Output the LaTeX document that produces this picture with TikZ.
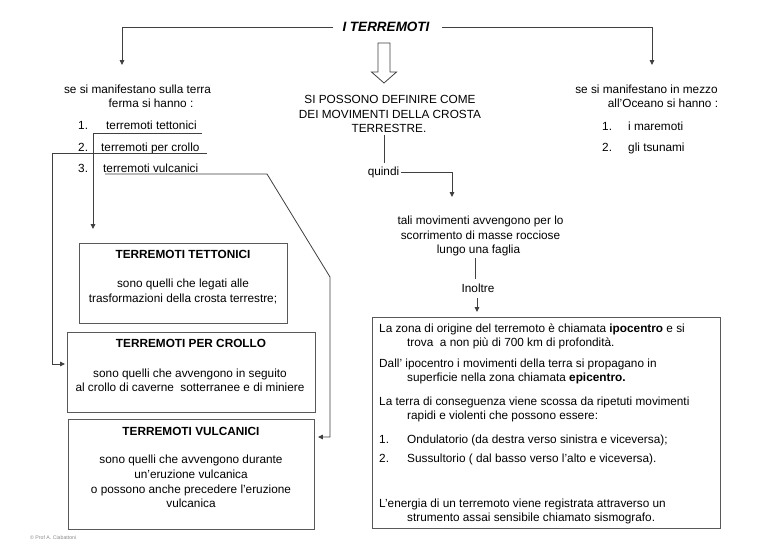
\documentclass[tikz,border=0pt]{standalone}
\usepackage{fontspec}
\setmainfont{Liberation Sans}
\usetikzlibrary{arrows.meta}
\begin{document}
\begin{tikzpicture}[x=1pt,y=-1pt,
  txt/.style={font=\fontsize{11.8}{14}\selectfont, inner sep=0pt, text=black},
  ttl/.style={font=\fontsize{11.8}{14}\selectfont\bfseries, inner sep=0pt, text=black},
  ln/.style={draw=black!75, line width=0.8pt},
  arr/.style={ln, -{Triangle[length=4.8pt,width=4.5pt]}},
  boxst/.style={draw=black!65, line width=0.9pt, inner sep=0pt, anchor=north west}
]
\useasboundingbox[fill=white] (0,0) rectangle (768,543);

% title
\node[font=\fontsize{13.5}{16}\selectfont\bfseries\itshape, inner sep=0pt] (title) at (386,27) {I TERREMOTI};
\coordinate (Ltgt) at (122,65);
\coordinate (Rtgt) at (652,65);
\draw[arr] ([xshift=-9pt]title.west) -| (Ltgt);
\draw[arr] ([xshift=12pt]title.east) -| (Rtgt);

% hollow arrow
\draw[ln, fill=white] (378,43) -- (390,43) -- (390,72) -- (396.5,72) -- (384,83) -- (371.5,72) -- (378,72) -- cycle;

% centre text
\node[txt] (si1) at (390,99.5) {SI POSSONO DEFINIRE COME};
\node[txt] (si2) at (390,114.5) {DEI MOVIMENTI DELLA CROSTA};
\node[txt] (si3) at (389,128.5) {TERRESTRE.};
\coordinate (q1) at (384,135);
\coordinate (q2) at (384,163);
\draw[ln] (q1) -- (q2);
\node[txt] (quindi) at (383.5,172) {quindi};
\coordinate (Ttgt) at (452,197);
\draw[arr] ([xshift=2pt]quindi.east) -| (Ttgt);

\node[txt, anchor=base] (tali1) at (480.5,224) {tali movimenti avvengono per lo};
\node[txt, anchor=base] (tali2) at (480.5,239) {scorrimento di masse rocciose};
\node[txt, anchor=base] (tali3) at (478.5,253) {lungo una faglia};
\coordinate (i1) at (475,258);
\coordinate (i2) at (475,279);
\draw[ln] (i1) -- (i2);
\node[txt, anchor=base] (inoltre) at (478,292) {Inoltre};
\coordinate (i3) at (477,298);
\coordinate (i4) at (477,312);
\draw[arr] (i3) -- (i4);

% big box
\node[boxst, minimum width=348pt, minimum height=211pt] (bB) at (372,317) {};
\node[txt, anchor=base west] (b1) at (379,332) {La zona di origine del terremoto è chiamata \textbf{ipocentro} e si};
\node[txt, anchor=base west] (b2) at (407,346) {trova\ \ a non più di 700 km di profondità.};
\node[txt, anchor=base west] (b3) at (379,367) {Dall’ ipocentro i movimenti della terra si propagano in};
\node[txt, anchor=base west] (b4) at (407,381) {superficie nella zona chiamata \textbf{epicentro.}};
\node[txt, anchor=base west] (b5) at (379,405) {La terra di conseguenza viene scossa da ripetuti movimenti};
\node[txt, anchor=base west] (b6) at (407,419) {rapidi e violenti che possono essere:};
\node[txt, anchor=base west] (b7n) at (379,443) {1.};
\node[txt, anchor=base west] (b7) at (407,443) {Ondulatorio (da destra verso sinistra e viceversa);};
\node[txt, anchor=base west] (b8n) at (379,462) {2.};
\node[txt, anchor=base west] (b8) at (407,462) {Sussultorio ( dal basso verso l’alto e viceversa).};
\node[txt, anchor=base west] (b9) at (379,507) {L’energia di un terremoto viene registrata attraverso un};
\node[txt, anchor=base west] (b10) at (407,521) {strumento assai sensibile chiamato sismografo.};

% right column
\node[txt, anchor=base] (r1) at (646.5,93) {se si manifestano in mezzo};
\node[txt, anchor=base] (r2) at (663,107) {all’Oceano si hanno :};
\node[txt, anchor=base west] (r3n) at (602,130) {1.};
\node[txt, anchor=base west] (r3) at (628,130) {i maremoti};
\node[txt, anchor=base west] (r4n) at (602,151) {2.};
\node[txt, anchor=base west] (r4) at (628,151) {gli tsunami};

% left column
\node[txt, anchor=base] (l1) at (137.5,93) {se si manifestano sulla terra};
\node[txt, anchor=base] (l2) at (151,107) {ferma si hanno :};
\node[txt, anchor=base west] (l3n) at (78,129) {1.};
\node[txt, anchor=base west] (l3) at (106,129) {terremoti tettonici};
\node[txt, anchor=base west] (l4n) at (78,151) {2.};
\node[txt, anchor=base west] (l4) at (101,151) {terremoti per crollo};
\node[txt, anchor=base west] (l5n) at (78,172) {3.};
\node[txt, anchor=base west] (l5) at (103,172) {terremoti vulcanici};

% boxes
\node[boxst, minimum width=208pt, minimum height=80pt] (bT) at (79,243) {};
\node[ttl, anchor=base] (bT1) at (183,258) {TERREMOTI TETTONICI};
\node[txt, anchor=base] (bT2) at (183,287) {sono quelli che legati alle};
\node[txt, anchor=base] (bT3) at (183,302) {trasformazioni della crosta terrestre;};

\node[boxst, minimum width=248pt, minimum height=80pt] (bC) at (67,332) {};
\node[ttl, anchor=base] (bC1) at (191,347) {TERREMOTI PER CROLLO};
\node[txt, anchor=base] (bC2) at (190,377) {sono quelli che avvengono in seguito};
\node[txt, anchor=base] (bC3) at (190,391) {al crollo di caverne\ \ sotterranee e di miniere};

\node[boxst, minimum width=246pt, minimum height=110pt] (bV) at (68,419) {};
\node[ttl, anchor=base] (bV1) at (191,435) {TERREMOTI VULCANICI};
\node[txt, anchor=base] (bV2) at (191,463) {sono quelli che avvengono durante};
\node[txt, anchor=base] (bV3) at (191,478) {un’eruzione vulcanica};
\node[txt, anchor=base] (bV4) at (191,493) {o possono anche precedere l’eruzione};
\node[txt, anchor=base] (bV5) at (191,507) {vulcanica};

% connectors from list
\coordinate (u1) at (202,133);
\coordinate (t1) at (93,229);
\draw[arr] (u1) -| (t1);
\coordinate (u2) at (207,153);
\coordinate (c2) at (52,364);
\coordinate (t2) at (65,364);
\draw[arr] (u2) -| (c2) -- (t2);
\coordinate (u3) at (105,174);
\coordinate (c3a) at (267,174);
\coordinate (c3b) at (330,277);
\coordinate (c3c) at (330,437);
\coordinate (t3) at (318,437);
\draw[arr] (u3) -- (c3a) -- (c3b) -- (c3c) -- (t3);

% copyright
\node[font=\fontsize{5.2}{6}\selectfont, text=black!45, inner sep=0pt, anchor=base west] (copy) at (30,539) {© Prof A. Ciabattoni};
\end{tikzpicture}
\end{document}
